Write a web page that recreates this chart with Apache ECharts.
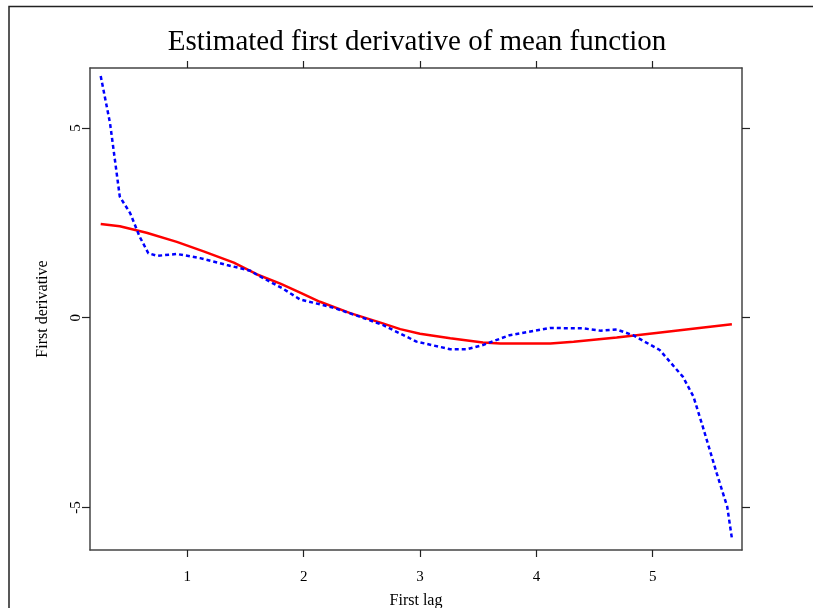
<!DOCTYPE html>
<html>
<head>
<meta charset="utf-8">
<script src="https://cdn.jsdelivr.net/npm/echarts@6/dist/echarts.min.js"></script>
<style>
  html, body { margin: 0; padding: 0; background: #fff; }
  #chart { width: 813px; height: 608px; }
</style>
</head>
<body>
<div id="chart"></div>
<script>
// Local-polynomial derivative estimate (solid red)
const redX = [0.256, 0.42, 0.65, 0.91, 1.14, 1.40, 1.60, 1.80, 1.97, 2.14, 2.40, 2.66, 2.83, 3.00, 3.26, 3.54, 3.69, 4.12, 4.32, 4.69, 5.03, 5.40, 5.68];
const redY = [2.47, 2.41, 2.24, 2.00, 1.75, 1.45, 1.14, 0.90, 0.66, 0.42, 0.12, -0.13, -0.30, -0.42, -0.54, -0.65, -0.68, -0.68, -0.63, -0.52, -0.40, -0.27, -0.17];

// Alternative derivative estimate (dotted blue)
const blueX = [0.256, 0.336, 0.42, 0.51, 0.59, 0.665, 0.74, 0.91, 1.11, 1.34, 1.54, 1.60, 1.82, 1.97, 2.25, 2.48, 2.68, 2.97, 3.26, 3.40, 3.54, 3.77, 4.12, 4.40, 4.55, 4.69, 4.83, 5.06, 5.26, 5.35, 5.43, 5.55, 5.64, 5.68];
const blueY = [6.37, 5.13, 3.19, 2.75, 2.14, 1.70, 1.63, 1.68, 1.57, 1.39, 1.24, 1.13, 0.77, 0.48, 0.27, 0.03, -0.19, -0.63, -0.83, -0.83, -0.72, -0.46, -0.27, -0.28, -0.34, -0.31, -0.46, -0.85, -1.56, -2.08, -2.87, -4.10, -4.98, -5.81];

const xTicks = [1, 2, 3, 4, 5];
const yTicks = [-5, 0, 5];

const xRange = [0.164, 5.767];
const yRange = [-6.12, 6.58];

const FONT = '"Liberation Serif", "Times New Roman", serif';
const AXIS_COLOR = '#444';

function pairs(xs, ys) { return xs.map((x, i) => [x, ys[i]]); }

const chart = echarts.init(document.getElementById('chart'), null, { renderer: 'canvas' });

const baseAxisLine = { show: true, onZero: false, lineStyle: { color: AXIS_COLOR, width: 1.5 } };
const tickStyle = { color: '#222', width: 1.2 };

chart.setOption({
  backgroundColor: '#fff',
  animation: false,
  title: {
    text: 'Estimated first derivative of mean function',
    left: 412,
    top: 23,
    textAlign: 'center',
    textStyle: { fontFamily: FONT, fontSize: 29, fontWeight: 'normal', color: '#000' }
  },
  grid: { left: 90, top: 68, width: 652, height: 482, containLabel: false, outerBoundsMode: 'none' },
  xAxis: [
    {
      type: 'value', position: 'bottom', min: xRange[0], max: xRange[1],
      axisLine: baseAxisLine,
      axisTick: { show: true, length: 7, inside: false, lineStyle: tickStyle, customValues: xTicks },
      axisLabel: { show: true, customValues: xTicks, margin: 20, color: '#000', fontFamily: FONT, fontSize: 15 },
      splitLine: { show: false },
      name: 'First lag', nameLocation: 'middle', nameGap: 43,
      nameTextStyle: { fontFamily: FONT, fontSize: 16, color: '#000' }
    },
    {
      type: 'value', position: 'top', min: xRange[0], max: xRange[1],
      axisLine: baseAxisLine,
      axisTick: { show: true, length: 7, lineStyle: tickStyle, customValues: xTicks },
      axisLabel: { show: false },
      splitLine: { show: false }
    }
  ],
  yAxis: [
    {
      type: 'value', position: 'left', min: yRange[0], max: yRange[1],
      axisLine: baseAxisLine,
      axisTick: { show: true, length: 8, lineStyle: tickStyle, customValues: yTicks },
      axisLabel: { show: true, customValues: yTicks, rotate: 90, margin: 6, color: '#000', fontFamily: FONT, fontSize: 15 },
      splitLine: { show: false },
      name: 'First derivative', nameLocation: 'middle', nameGap: 39, nameRotate: 90,
      nameTextStyle: { fontFamily: FONT, fontSize: 16, color: '#000' }
    },
    {
      type: 'value', position: 'right', min: yRange[0], max: yRange[1],
      axisLine: baseAxisLine,
      axisTick: { show: true, length: 8, lineStyle: tickStyle, customValues: yTicks },
      axisLabel: { show: false },
      splitLine: { show: false }
    }
  ],
  graphic: [
    {
      type: 'rect', silent: true,
      shape: { x: 9, y: 6.5, width: 1000, height: 1000 },
      style: { fill: 'none', stroke: '#222', lineWidth: 1.5 }
    }
  ],
  series: [
    {
      type: 'line', data: pairs(redX, redY), showSymbol: false, smooth: false,
      lineStyle: { color: '#ff0000', width: 2.5 }, z: 3
    },
    {
      type: 'line', data: pairs(blueX, blueY), showSymbol: false, smooth: false,
      lineStyle: { color: '#0000ff', width: 2.5, type: [4, 3] }, z: 4
    }
  ]
});
</script>
</body>
</html>
